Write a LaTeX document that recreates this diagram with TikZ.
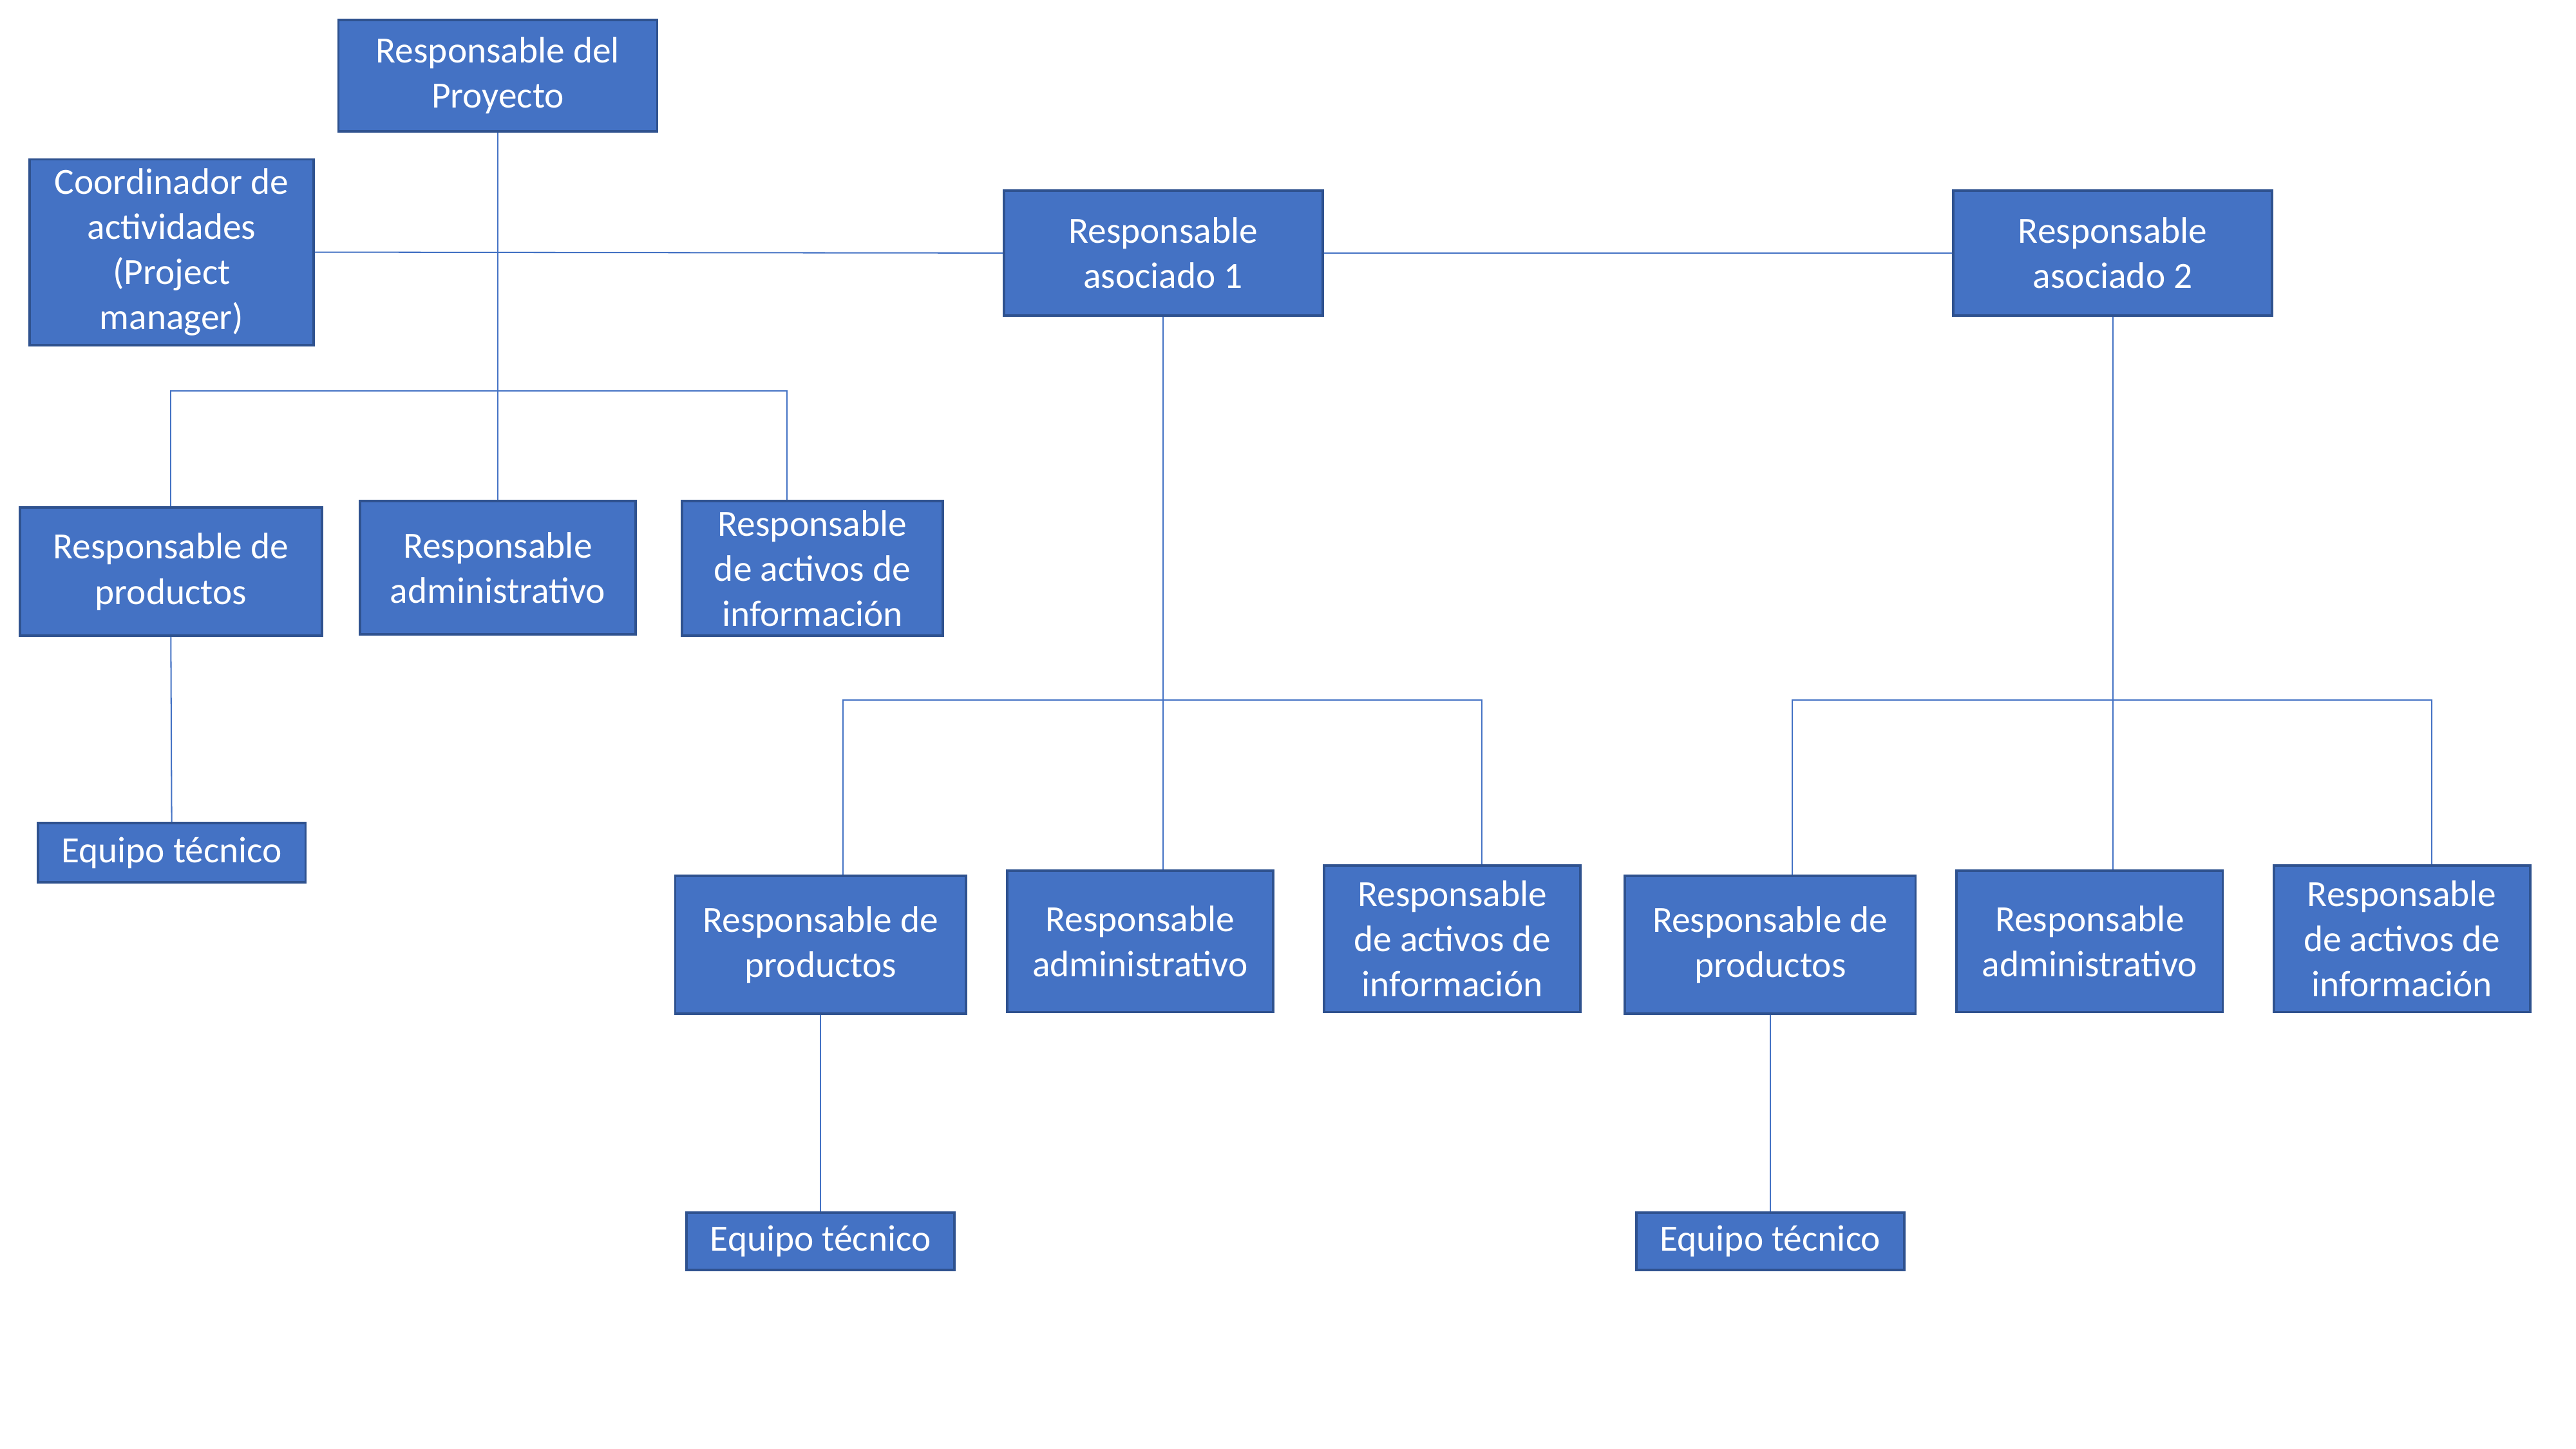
\documentclass[tikz,border=0pt]{standalone}
\usepackage{fontspec}
\setmainfont{Carlito}
\definecolor{boxfill}{HTML}{4472C4}
\definecolor{boxline}{HTML}{2F528F}
\definecolor{conn}{HTML}{4472C4}
\begin{document}
\begin{tikzpicture}[x=1pt,y=-1pt,
  box/.style={draw=boxline, line width=1.5pt, fill=boxfill, text=white,
    align=center, inner sep=0pt, font=\fontsize{22.5}{27.5}\selectfont},
  link/.style={draw=conn, line width=0.8pt}]
\useasboundingbox (0,0) rectangle (1568,882);
\fill[white] (0,0) rectangle (1568,882);

% top level
\node[box, minimum width=194pt, minimum height=68pt] (proj) at (303,46) {Responsable del\\Proyecto};
\node[box, minimum width=173pt, minimum height=113pt] (coord) at (104.5,153.5) {Coordinador de\\actividades\\(Project\\manager)};
\node[box, minimum width=194pt, minimum height=76pt] (as1) at (708,154) {Responsable\\asociado 1};
\node[box, minimum width=194pt, minimum height=76pt] (as2) at (1286,154) {Responsable\\asociado 2};

% left group
\node[box, minimum width=184pt, minimum height=78pt] (prodL) at (104,348) {Responsable de\\productos};
\node[box, minimum width=168pt, minimum height=81pt] (admL) at (303,345.5) {Responsable\\administrativo};
\node[box, minimum width=159pt, minimum height=82pt] (actL) at (494.5,346) {Responsable\\de activos de\\información};
\node[box, minimum width=163pt, minimum height=36pt] (eqL) at (104.5,519) {Equipo técnico};

% middle group
\node[box, minimum width=177pt, minimum height=84pt] (prodM) at (499.5,575) {Responsable de\\productos};
\node[box, minimum width=162pt, minimum height=86pt] (admM) at (694,573) {Responsable\\administrativo};
\node[box, minimum width=156pt, minimum height=89pt] (actM) at (884,571.5) {Responsable\\de activos de\\información};
\node[box, minimum width=163pt, minimum height=35pt] (eqM) at (499.5,755.5) {Equipo técnico};

% right group
\node[box, minimum width=177pt, minimum height=84pt] (prodR) at (1077.5,575) {Responsable de\\productos};
\node[box, minimum width=162pt, minimum height=86pt] (admR) at (1272,573) {Responsable\\administrativo};
\node[box, minimum width=156pt, minimum height=89pt] (actR) at (1462,571.5) {Responsable\\de activos de\\información};
\node[box, minimum width=163pt, minimum height=35pt] (eqR) at (1077.5,755.5) {Equipo técnico};

% bus coordinates
\coordinate (bLa) at (104,238);
\coordinate (bLb) at (479,238);
\coordinate (bMa) at (513,426);
\coordinate (bMb) at (902,426);
\coordinate (bRa) at (1091,426);
\coordinate (bRb) at (1480,426);

\begin{scope}[on background layer/.try]
\end{scope}

% connectors
\path[link] (coord.east) -- (as1.west);
\path[link] (as1.east) -- (as2.west);
\path[link] (proj.south) -- (admL.north);
\path[link] (prodL.north) -- (bLa) -- (bLb) -- (bLb |- actL.north);
\path[link] (prodL.south) -- (eqL.north);

\path[link] (as1.south) -- (as1.south |- admM.north);
\path[link] (bMa |- prodM.north) -- (bMa) -- (bMb) -- (bMb |- actM.north);
\path[link] (prodM.south) -- (eqM.north);

\path[link] (as2.south) -- (as2.south |- admR.north);
\path[link] (bRa |- prodR.north) -- (bRa) -- (bRb) -- (bRb |- actR.north);
\path[link] (prodR.south) -- (eqR.north);
\end{tikzpicture}
\end{document}
